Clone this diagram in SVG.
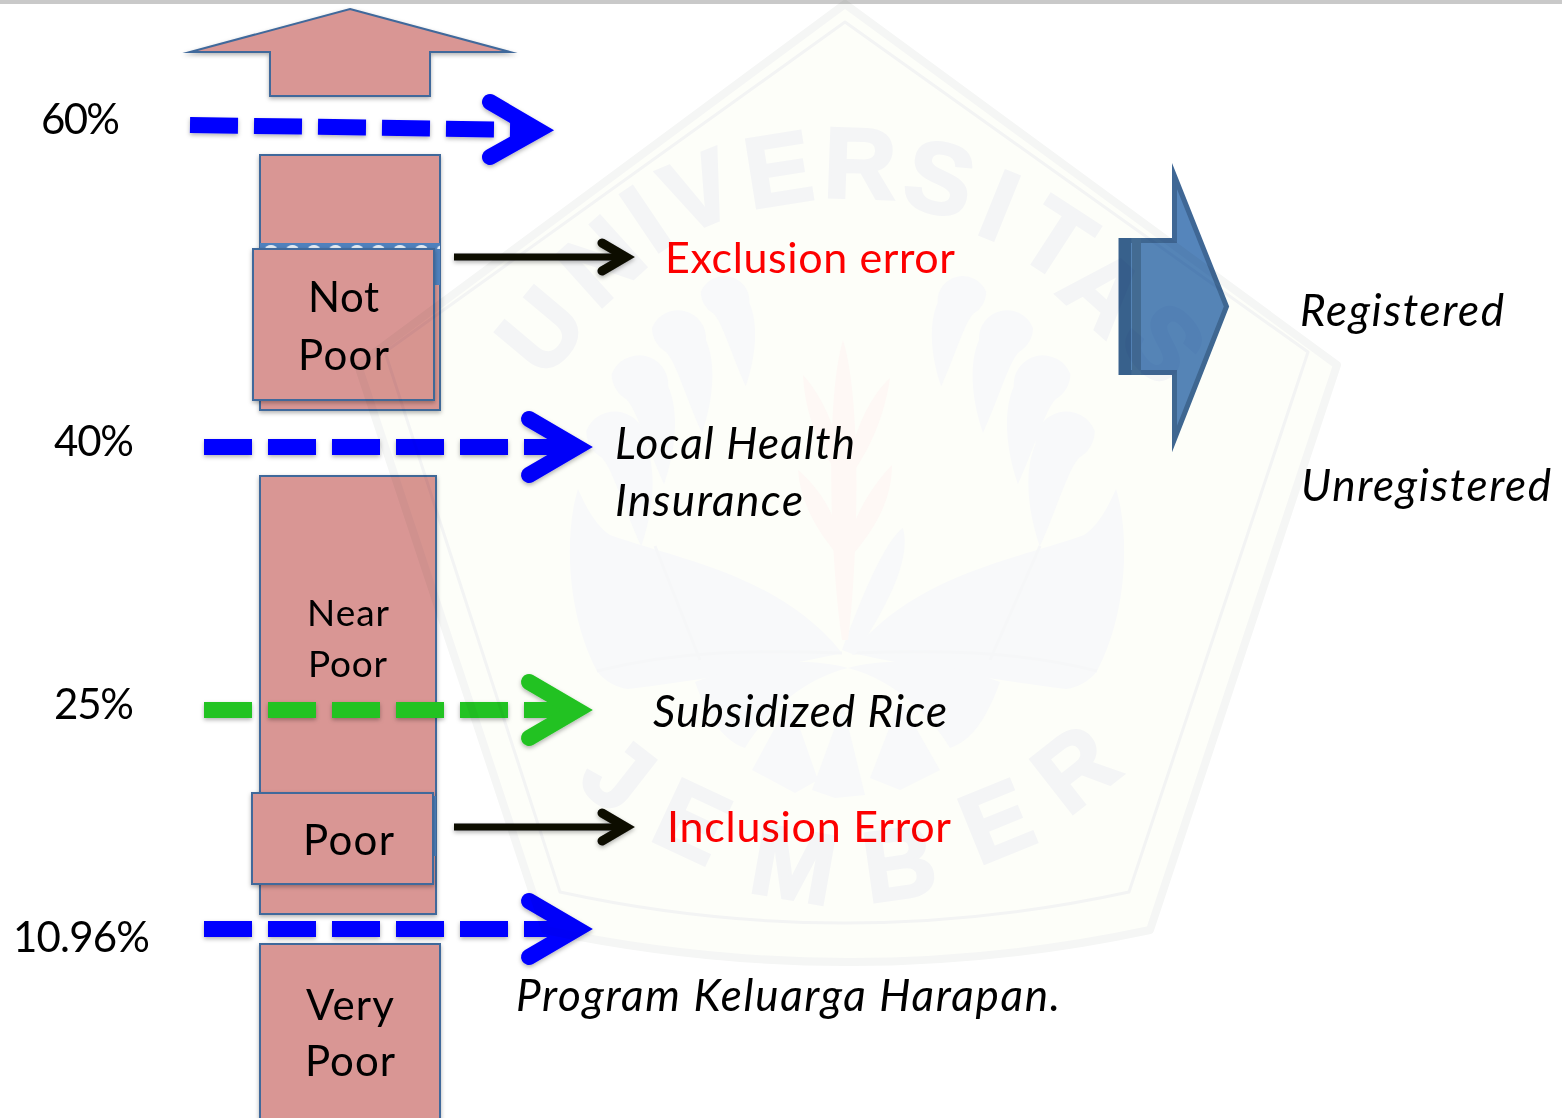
<svg xmlns="http://www.w3.org/2000/svg" width="1562" height="1118" viewBox="0 0 1562 1118">
<style>
text{font-family:Lato,Carlito,"Noto Sans",sans-serif;fill:#000}
.l{font-size:42px}
.s{font-size:37px}
.i{font-size:44px;font-style:italic}
.r{font-size:43px;fill:#ff0000}
.box{fill:#d99694;stroke:#41699b;stroke-width:2;stroke-miterlimit:10}
.dash{fill:none;stroke-width:16;stroke-dasharray:48 16}
.head{fill:none;stroke-width:16;stroke-linecap:round;stroke-linejoin:miter;stroke-miterlimit:10}
.blk{fill:none;stroke:#0a0a06;stroke-width:7}
.blkh{fill:none;stroke:#0a0a06;stroke-width:9;stroke-linecap:round;stroke-linejoin:miter;stroke-miterlimit:10}
#watermark{mix-blend-mode:multiply}
.wm{fill:none;stroke:#f3f4f4;stroke-linejoin:round}
.wmf{fill:#f8f9fa;stroke:none}
.wl{fill:none;stroke:#f6f7f8;stroke-width:3}
.wt{font-family:"Liberation Sans",sans-serif;font-weight:700;font-size:100px;fill:#f4f5f6;stroke:#f4f5f6;stroke-width:3;text-anchor:middle}
.pk{fill:#fef8f5;stroke:none}
</style>
<defs>
<filter id="sh" x="-10%" y="-10%" width="120%" height="125%"><feDropShadow dx="0" dy="2" stdDeviation="2" flood-color="#000" flood-opacity="0.3"/></filter>
<pattern id="dots" width="21.5" height="42" patternUnits="userSpaceOnUse" x="260" y="243"><rect width="21.5" height="42" fill="#4f81bd"/><path d="M5 6a6 4 0 0 1 12 0z" fill="#e6edf5"/></pattern>
<path id="comma" d="M-26 12A28 28 0 0 1 28 0A28 28 0 0 1 14 24C4 34-6 70-22 105C-34 70-36 35-26 12Z"/>
</defs>
<rect width="1562" height="1118" fill="#fff"/>
<rect width="1562" height="4" fill="#c9c9c9"/>
<g id="up-arrow"><path class="box" filter="url(#sh)" d="M350 9L510 52H430V96H270V52H190Z"/></g>
<g id="not-poor-column">
<rect class="box" filter="url(#sh)" x="260" y="155" width="180" height="255"/>
<rect x="260" y="243" width="180" height="42" fill="url(#dots)"/>
</g>
<g id="not-poor"><rect class="box" filter="url(#sh)" x="253" y="249" width="181" height="151"/>
<text class="l" x="308" y="312" textLength="71">Not</text><text class="l" x="298" y="370" textLength="91">Poor</text></g>
<g id="near-poor"><rect class="box" filter="url(#sh)" x="260" y="476" width="176" height="438"/>
<rect x="434" y="796" width="2" height="60" fill="#4f81bd"/>
<text class="s" x="307" y="626" textLength="82">Near</text><text class="s" x="308" y="677" textLength="79">Poor</text></g>
<g id="poor"><rect class="box" filter="url(#sh)" x="252" y="793" width="181" height="91"/>
<text class="l" x="303" y="855" textLength="91">Poor</text></g>
<g id="very-poor"><rect class="box" filter="url(#sh)" x="260" y="944" width="180" height="180"/>
<text class="l" x="306" y="1020" textLength="88">Very</text><text class="l" x="305" y="1076" textLength="90">Poor</text></g>
<g id="big-arrow">
<path d="M1174.5 176L1226.5 306.5L1174.5 439V372.5H1121V240.5H1174.5Z" fill="#5585bb" stroke="#3f6795" stroke-width="5" stroke-linejoin="miter" stroke-miterlimit="10"/>
<rect x="1119" y="238" width="12" height="137" fill="#38618f"/>
<rect x="1132" y="238" width="9" height="137" fill="#436b96"/>
<rect x="1131" y="243" width="1" height="127" fill="#5585bb"/>
</g>
<g id="connectors">
<g filter="url(#sh)">
<path class="dash" stroke="#0000ff" d="M190 125L535 130"/>
<path class="head" stroke="#0000ff" d="M490 102L538 130L490 157"/>
<path class="dash" stroke="#0000ff" d="M204 447H575"/>
<path class="head" stroke="#0000ff" d="M529 419L577 447L529 475"/>
<path class="dash" stroke="#22c322" d="M204 710H575"/>
<path class="head" stroke="#22c322" d="M529 682L577 710L529 738"/>
<path class="dash" stroke="#0000ff" d="M204 929H575"/>
<path class="head" stroke="#0000ff" d="M529 901L577 929L529 957"/>
<path class="blk" d="M454 257H626"/>
<path class="blkh" d="M602 243L626 257L602 271"/>
<path class="blk" d="M454 827H626"/>
<path class="blkh" d="M602 813L626 827L602 841"/>
</g>
</g>
<g id="labels">
<text class="l" x="41" y="134" textLength="79">60%</text>
<text class="l" x="54" y="456" textLength="80">40%</text>
<text class="l" x="54" y="719" textLength="80">25%</text>
<text class="l" x="13" y="952" textLength="137">10.96%</text>
<text class="r" x="665" y="273" textLength="290">Exclusion error</text>
<text class="r" x="667" y="842" textLength="284">Inclusion Error</text>
<text class="i" x="615" y="458.5" textLength="240">Local Health</text>
<text class="i" x="615" y="515.5" textLength="188">Insurance</text>
<text class="i" x="653" y="727" textLength="294">Subsidized Rice</text>
<text class="i" x="516" y="1010.5" textLength="544">Program Keluarga Harapan.</text>
<text class="i" x="1300" y="326" textLength="204">Registered</text>
<text class="i" x="1301" y="501" textLength="250">Unregistered</text>
</g>
<g id="watermark">
<path d="M845 4L1337 365L1150 930Q850 994 545 930L358 365Z" fill="#fdfef9" stroke="#f5f6f5" stroke-width="8" stroke-linejoin="round"/>
<path class="wm" stroke-width="3" d="M845 22L1308 352L1129 892Q845 954 560 892L385 352Z"/>
<g>
<text class="wt" transform="translate(540 330) rotate(-50)" dy="36">U</text>
<text class="wt" transform="translate(600 260) rotate(-42)" dy="36">N</text>
<text class="wt" transform="translate(645 218) rotate(-34)" dy="36">I</text>
<text class="wt" transform="translate(698 190) rotate(-22)" dy="36">V</text>
<text class="wt" transform="translate(778 168) rotate(-9)" dy="36">E</text>
<text class="wt" transform="translate(860 162) rotate(2)" dy="36">R</text>
<text class="wt" transform="translate(940 177) rotate(13)" dy="36">S</text>
<text class="wt" transform="translate(1000 204) rotate(22)" dy="36">I</text>
<text class="wt" transform="translate(1058 238) rotate(33)" dy="36">T</text>
<text class="wt" transform="translate(1105 290) rotate(42)" dy="36">A</text>
<text class="wt" transform="translate(1165 342) rotate(50)" dy="36">S</text>
<text class="wt" transform="translate(619 773) rotate(38)" dy="36">J</text>
<text class="wt" transform="translate(693 820) rotate(25)" dy="36">E</text>
<text class="wt" transform="translate(794 863) rotate(10)" dy="36">M</text>
<text class="wt" transform="translate(899 862) rotate(-8)" dy="36">B</text>
<text class="wt" transform="translate(996 820) rotate(-22)" dy="36">E</text>
<text class="wt" transform="translate(1074 767) rotate(-38)" dy="36">R</text>
</g>
<g class="wmf">
<use href="#comma" transform="translate(1064 431) scale(1.1)"/>
<use href="#comma" transform="translate(1041 374) scale(1.05)"/>
<use href="#comma" transform="translate(1005 328)"/>
<use href="#comma" transform="translate(961 292) scale(.9)"/>
<use href="#comma" transform="translate(617 431) scale(-1.1 1.1)"/>
<use href="#comma" transform="translate(641 374) scale(-1.05 1.05)"/>
<use href="#comma" transform="translate(680 328) scale(-1 1)"/>
<use href="#comma" transform="translate(726 292) scale(-.9 .9)"/>
</g>
<path class="wmf" d="M842 653C780 575 680 560 610 535C595 525 585 505 578 489C565 530 565 610 597 671C605 682 618 688 628 689C700 680 790 665 842 653Z"/>
<path class="wmf" d="M852 653C914 575 1014 560 1084 535C1099 525 1109 505 1116 489C1129 530 1129 610 1097 671C1089 682 1076 688 1066 689C994 680 904 665 852 653Z"/>
<path class="wl" d="M597 671C680 650 760 650 842 653M1097 671C1014 650 934 650 852 653M655 546L700 660M1040 546L990 660"/>
<path class="wmf" d="M695 682C740 665 800 655 848 668C800 680 765 715 745 748C720 740 705 710 695 682Z"/>
<path class="wmf" d="M1000 682C955 665 895 655 848 668C895 680 930 715 950 748C975 740 990 710 1000 682Z"/>
<path class="wmf" d="M790 700L752 770L795 793L818 780Z"/>
<path class="wmf" d="M900 700L940 770L900 790L870 778Z"/>
<path class="wmf" d="M843 705L812 790L835 798L865 795Z"/>
<path class="wmf" d="M842 650C860 600 885 540 903 528C912 560 885 610 855 655Z"/>
<path class="pk" d="M842 640C830 560 825 400 843 340C862 400 858 560 848 640Z"/>
<path class="pk" d="M842 560C815 530 800 500 798 470C822 490 838 520 843 550ZM848 560C875 530 892 500 892 465C868 490 852 520 847 550ZM842 480C820 450 805 415 803 375C826 400 840 440 843 470ZM848 480C870 450 885 415 890 378C866 400 852 440 847 470Z"/>
</g>
</svg>
